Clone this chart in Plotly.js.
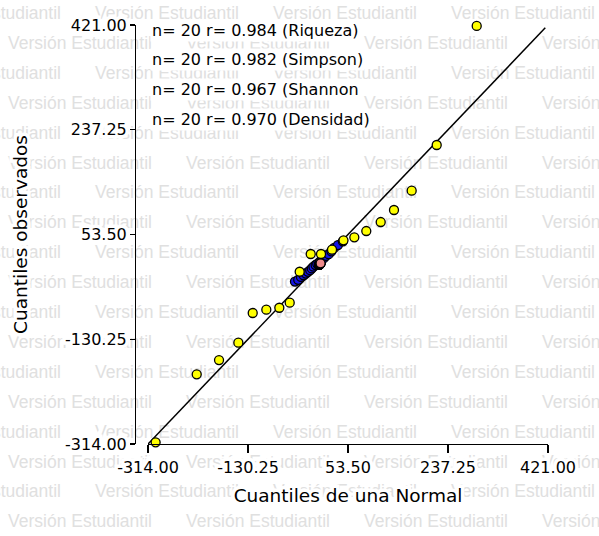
<!DOCTYPE html>
<html>
<head>
<meta charset="utf-8">
<script src="https://cdn.plot.ly/plotly-3.0.1.min.js"></script>
<style>
  html, body { margin: 0; padding: 0; background: #fff; }
  #wrap { position: relative; width: 599px; height: 536px; overflow: hidden; background: #fff; }
  #wm { position: absolute; left: 0; top: 0; width: 599px; height: 536px; overflow: hidden; }
  .wmrow { position: absolute; white-space: nowrap; font-family: "Liberation Sans", Arial, sans-serif; font-size: 17.5px; color: #e0e0e0; line-height: 20px; }
  .wmrow span { position: absolute; top: 0; }
  #chart { position: absolute; left: 0; top: 0; width: 599px; height: 536px; }
  .xtick text, .ytick text, text.xtitle, text.ytitle { paint-order: stroke; stroke: #ffffff; stroke-width: 7px; stroke-linejoin: miter; }
</style>
</head>
<body>
<div id="wrap">
  <div id="wm"></div>
  <div id="chart"></div>
</div>
<script>
// ---- data ----
const seriesNames = ['Riqueza', 'Simpson', 'Shannon', 'Densidad'];
const nValues = [20, 20, 20, 20];
const rValues = ['0.984', '0.982', '0.967', '0.970'];

const riquezaX = [-300, -224.5, -183.5, -148, -121.6, -96.6, -72.7, -53.6, -35.3, -15, 3.9, 24.1, 45.2, 65.1, 87.1, 113.6, 138, 170.5, 216.5, 290];
const riquezaY = [-311, -191.7, -166.7, -136.3, -84.2, -78.4, -75, -66.1, -11.8, 19.3, 19.3, 26.8, 43.3, 48.6, 59.6, 75.4, 96.5, 130.3, 210.5, 419.3];

const simpsonX = [0.45, 0.52, 0.56, 0.59, 0.62, 0.64, 0.66, 0.68, 0.70, 0.71, 0.73, 0.75, 0.76, 0.78, 0.80, 0.82, 0.85, 0.88, 0.92, 0.99];
const simpsonY = [0.40, 0.50, 0.58, 0.60, 0.63, 0.65, 0.66, 0.69, 0.70, 0.72, 0.74, 0.75, 0.77, 0.78, 0.79, 0.81, 0.84, 0.86, 0.88, 0.91];

const shannonX = [1.10, 1.35, 1.50, 1.62, 1.72, 1.80, 1.88, 1.95, 2.02, 2.08, 2.15, 2.21, 2.28, 2.36, 2.44, 2.52, 2.62, 2.74, 2.89, 3.10];
const shannonY = [0.90, 1.40, 1.60, 1.70, 1.75, 1.85, 1.90, 1.98, 2.05, 2.10, 2.12, 2.20, 2.25, 2.30, 2.40, 2.50, 2.60, 2.70, 2.80, 2.95];

const densidadX = [-44, -38, -33, -28, -24, -20, -16, -13, -10, -6, -3, 1, 5, 9, 13, 18, 23, 28, 35, 44];
const densidadY = [-29, -26, -21, -18, -15, -12, -9, -6, -3, 0, 2, 5, 9, 12, 16, 19, 24, 30, 35, 41.6];

const refLine = [-314, 416];
const tickVals = [-314, -130.25, 53.5, 237.25, 421];
const tickText = ['-314.00', '-130.25', '53.50', '237.25', '421.00'];
const axisRange = [-314, 421];

const xTitle = 'Cuantiles de una Normal';
const yTitle = 'Cuantiles observados';
const watermarkText = 'Versión Estudiantil';

// ---- watermark (background text) ----
(function () {
  const wm = document.getElementById('wm');
  for (let i = 0; i < 18; i++) {
    const row = document.createElement('div');
    row.className = 'wmrow';
    row.style.top = (3 + i * 29.9) + 'px';
    row.style.left = '0px';
    const start = (i % 2 === 0) ? -83 : 8;
    for (let k = 0; k < 5; k++) {
      const s = document.createElement('span');
      s.textContent = watermarkText;
      s.style.left = (start + k * 178) + 'px';
      row.appendChild(s);
    }
    wm.appendChild(row);
  }
})();

// ---- chart ----
const font = 'DejaVu Sans, Verdana, sans-serif';
const mk = (color) => ({ size: 9, color: color, line: { color: '#000', width: 1.3 } });

const traces = [
  { x: refLine, y: refLine, mode: 'lines', line: { color: '#000', width: 1.5 }, hoverinfo: 'skip', showlegend: false },
  { x: densidadX, y: densidadY, mode: 'markers', name: seriesNames[3], marker: mk('#1414e6'), cliponaxis: false },
  { x: simpsonX, y: simpsonY, mode: 'markers', name: seriesNames[1], marker: mk('#f08c8c'), cliponaxis: false },
  { x: shannonX, y: shannonY, mode: 'markers', name: seriesNames[2], marker: mk('#f08c8c'), cliponaxis: false },
  { x: riquezaX, y: riquezaY, mode: 'markers', name: seriesNames[0], marker: mk('#ffff00'), cliponaxis: false }
];

const order = [0, 1, 2, 3];
const labelY = [0.988, 0.9165, 0.8449, 0.7733];
const annotations = order.map((i, k) => ({
  xref: 'paper', yref: 'paper', x: 0.0363, y: labelY[k],
  xanchor: 'left', yanchor: 'middle', showarrow: false,
  text: 'n= ' + nValues[i] + ' r= ' + rValues[i] + ' (' + seriesNames[i] + (i === 2 ? '' : ')'),
  font: { family: font, size: 16, color: '#000' },
  bgcolor: '#ffffff', borderpad: 1
}));

const layout = {
  width: 599, height: 536,
  margin: { l: 135, r: 51, t: 25, b: 92 },
  paper_bgcolor: 'rgba(0,0,0,0)',
  plot_bgcolor: 'rgba(0,0,0,0)',
  showlegend: false,
  xaxis: {
    domain: [0.0315, 1], range: axisRange, anchor: 'y',
    tickvals: tickVals, ticktext: tickText,
    ticks: 'outside', ticklen: 8, tickwidth: 1.3, tickcolor: '#000',
    showline: true, linecolor: '#000', linewidth: 1.3,
    showgrid: false, zeroline: false,
    tickfont: { family: font, size: 16, color: '#000' },
    title: { text: xTitle, font: { family: font, size: 18.5, color: '#000' }, standoff: 13 }
  },
  yaxis: {
    range: axisRange, anchor: 'free', position: 0,
    tickvals: tickVals, ticktext: tickText,
    ticks: 'outside', ticklen: 5, tickwidth: 1.3, tickcolor: '#000',
    showline: true, linecolor: '#000', linewidth: 1.3,
    showgrid: false, zeroline: false,
    tickfont: { family: font, size: 16, color: '#000' },
    title: { text: yTitle, font: { family: font, size: 18.5, color: '#000' }, standoff: 31 }
  },
  annotations: annotations
};

Plotly.newPlot('chart', traces, layout, { displayModeBar: false, staticPlot: true });
</script>
</body>
</html>
